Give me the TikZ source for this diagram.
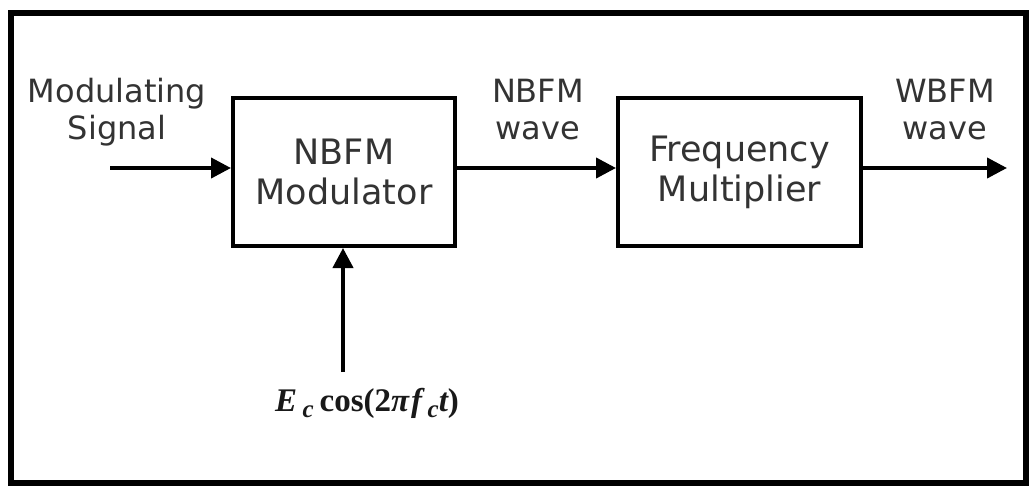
\documentclass[tikz,border=0pt]{standalone}
\usepackage{fontspec}
\setmainfont{DejaVu Sans}
\newfontfamily\serifbi[BoldFont={Liberation Serif Bold Italic}]{Liberation Serif}
\newfontfamily\serifb[BoldFont={Liberation Serif Bold}]{Liberation Serif}
\usetikzlibrary{arrows.meta}
\newcommand{\bi}[1]{{\serifbi\bfseries #1}}
\newcommand{\bu}[1]{{\serifb\bfseries #1}}
\newcommand{\sbs}[1]{\raisebox{-6pt}{\fontsize{25}{27}\selectfont\bi{#1}}}
\newcommand{\formulatext}{\bi{E}\,\sbs{c}\hspace{6pt}\bu{cos(2}\bi{π}\hspace{2pt}\bi{f}\,\sbs{c}\bi{t}\bu{)}}
\begin{document}
\begin{tikzpicture}[x=1pt,y=-1pt,
  blk/.style={draw,line width=4pt,minimum height=148pt,inner sep=0pt,align=center,text=black!80,font=\fontsize{35}{40}\selectfont},
  lbl/.style={align=center,text=black!80,font=\fontsize{32}{37}\selectfont,inner sep=0pt},
  fml/.style={inner sep=0pt,text=black!90,font=\fontsize{33}{36}\selectfont},
  arr/.style={line width=4pt,-{Triangle[length=20pt,width=20pt]}}]
\useasboundingbox (0,0) rectangle (1030,487);
\fill[white] (0,0) rectangle (1030,487);
\draw[line width=6pt] (11,13) rectangle (1026,483);
\node[blk,minimum width=222pt] (mod) at (344,172) {NBFM\\Modulator};
\node[blk,minimum width=243pt] (mul) at (739.5,172) {Frequency\\Multiplier};
\coordinate (in) at (110,168);
\coordinate (out) at (1007,168);
\coordinate (bot) at (343,372);
\node[lbl] (l1) at (117,112) {Modulating\\Signal};
\node[lbl] (l2) at (538,110) {NBFM\\wave};
\node[lbl] (l3) at (945,110) {WBFM\\wave};
\node[fml] (fm) at (367,403) {\formulatext};
\draw[arr] (in) -- (mod.west |- in);
\draw[arr] (mod.east |- in) -- (mul.west |- in);
\draw[arr] (mul.east |- in) -- (out);
\draw[arr] (bot) -- (mod.south -| bot);
\end{tikzpicture}
\end{document}
